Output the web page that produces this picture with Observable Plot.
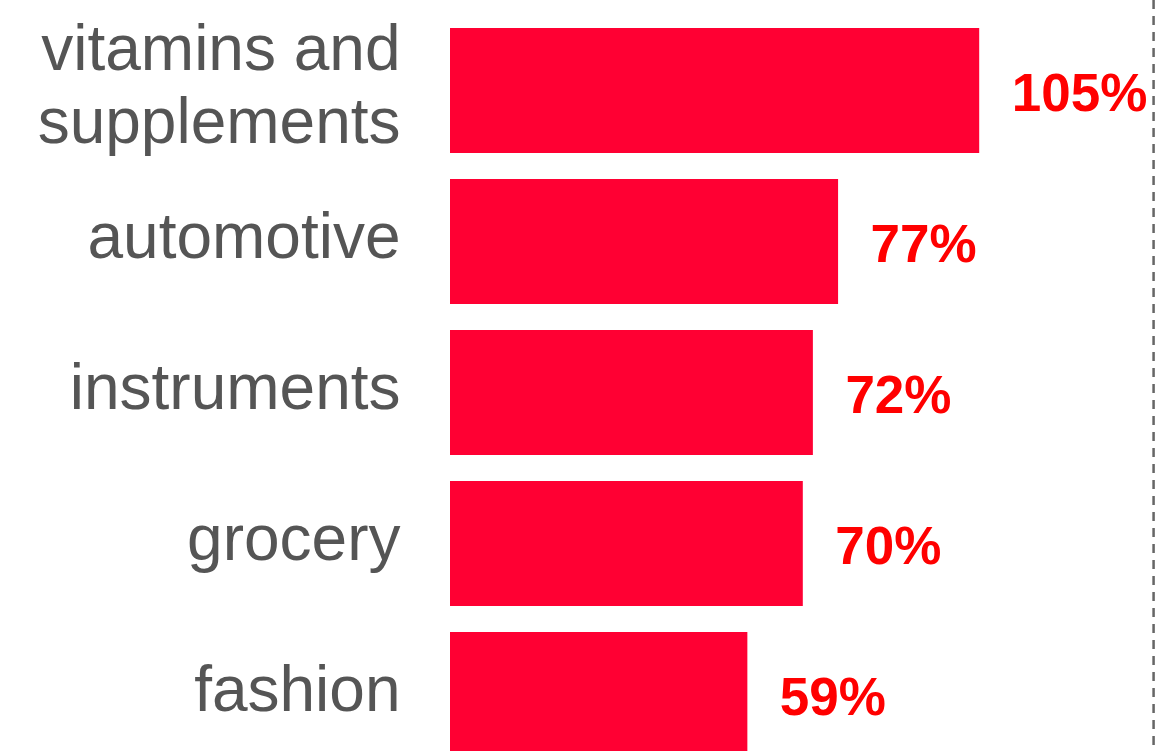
<!DOCTYPE html>
<html>
<head>
<meta charset="utf-8">
<script src="https://cdn.jsdelivr.net/npm/d3@7"></script>
<script src="https://cdn.jsdelivr.net/npm/@observablehq/plot@0.6"></script>
<style>
  html, body { margin: 0; padding: 0; background: #ffffff; overflow: hidden; }
  #chart svg { display: block; }
</style>
</head>
<body>
<div id="chart"></div>
<script>
const categories = ["vitamins and supplements", "automotive", "instruments", "grocery", "fashion"];
const categoryLabels = ["vitamins and\nsupplements", "automotive", "instruments", "grocery", "fashion"];
const values = [105, 77, 72, 70, 59];
const valueLabels = ["105%", "77%", "72%", "70%", "59%"];
const referenceValue = [139.5];

const data = categories.map((c, i) => ({category: c, name: categoryLabels[i], value: values[i], label: valueLabels[i]}));

const chart = Plot.plot({
  width: 1158,
  height: 751,
  marginLeft: 0, marginRight: 0, marginTop: 0, marginBottom: 0,
  style: {fontFamily: "'Liberation Sans', Arial, sans-serif", background: "#ffffff", overflow: "hidden"},
  x: {domain: [0, 140], range: [450, 1155.6], axis: null},
  y: {domain: categories, range: [28, 759], paddingInner: 0.175, paddingOuter: 0, align: 0, axis: null},
  marks: [
    Plot.barX(data, {x: "value", y: "category", fill: "#ff0033"}),
    Plot.ruleX(referenceValue, {stroke: "#666666", strokeWidth: 2.5, strokeDasharray: "9,7"}),
    Plot.text(data, {x: "value", y: "category", text: "label", textAnchor: "start", dx: 32, dy: 3,
      fill: "#ff0000", fontWeight: "bold", fontSize: 53}),
    Plot.text(data, {x: 0, y: "category", text: "name", textAnchor: "end", dx: -50, dy: -8,
      fill: "#555555", fontSize: 64, lineHeight: 1.15})
  ]
});
document.getElementById("chart").appendChild(chart);
</script>
</body>
</html>
